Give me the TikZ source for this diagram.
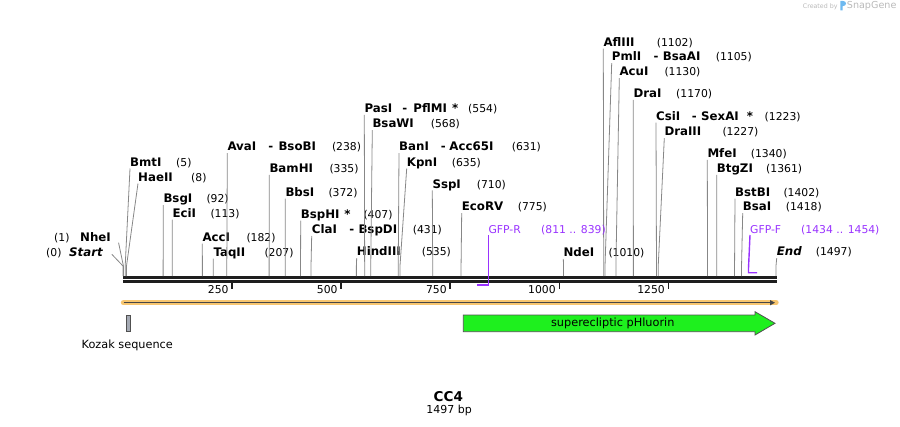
\documentclass[tikz,border=0pt]{standalone}
\usepackage{fontspec}
\setmainfont{DejaVu Sans}
\usetikzlibrary{arrows.meta}
\definecolor{sitegray}{RGB}{135,135,135}
\definecolor{barblack}{RGB}{30,30,30}
\definecolor{primerpurple}{RGB}{153,51,255}
\definecolor{orangeband}{RGB}{247,198,112}
\definecolor{arrowdark}{RGB}{70,70,70}
\definecolor{featgreen}{RGB}{30,240,30}
\definecolor{featedge}{RGB}{80,80,80}
\definecolor{kozakgray}{RGB}{165,170,180}
\definecolor{credgray}{RGB}{185,185,185}
\definecolor{logoblue}{RGB}{110,185,240}
\newcommand{\enzpos}[1]{{\fontsize{10.8}{13}\selectfont\mdseries #1}}
\newcommand{\en}[2]{\rlap{\hspace{#1pt}\textbf{#2}}}
\newcommand{\enz}[7]{%
  \coordinate (s#1) at ({123+0.4362*#7},276);
  \node[enz] (#1) at (#2,{#3+4.2}) {#4\hspace{#5pt}\enzpos{#6}};
  \draw[site] ([yshift=-2.3pt]#1.base west) -- ([yshift=10pt]s#1) -- (s#1);
}
\tikzset{
  enz/.style={anchor=base west, inner sep=0pt, text=black, font=\fontsize{11.8}{14}\selectfont},
  site/.style={draw=sitegray, line width=0.8pt},
  primer/.style={draw=primerpurple, line width=1.4pt},
  primerlabel/.style={anchor=base west, inner sep=0pt, text=primerpurple, font=\fontsize{10.8}{13}\selectfont},
  barline/.style={draw=barblack, line width=2.7pt},
  tickmark/.style={draw=barblack, line width=1.4pt},
  ticklabel/.style={anchor=base east, inner sep=0pt, font=\fontsize{10.8}{13}\selectfont},
  featlabel/.style={inner sep=0pt, font=\fontsize{11.3}{13}\selectfont}
}
\begin{document}
\begin{tikzpicture}[x=1pt, y=-1pt]
\useasboundingbox (0,0) rectangle (900,426);

% credit
\node[anchor=west, inner sep=0pt, text=credgray, font=\fontsize{6.3}{8}\selectfont] (credit) at (802.7,6.3) {Created by};
\fill[logoblue] (840.3,10.3) -- (840.3,0.8) -- (842.6,0.8) .. controls (847.2,0.8) and (847.2,6.2) .. (842.6,6.2) -- (842.6,10.3) -- cycle;
\node[anchor=west, inner sep=0pt, text=credgray, font=\fontsize{9.6}{11}\selectfont] (snapgene) at (846.7,6.2) {SnapGene};

% sequence bar
\draw[barline] (123,277.3) -- (777,277.3);
\draw[barline] (123,281.3) -- (777,281.3);
\foreach \t in {250,500,750,1000,1250} {
  \draw[tickmark] ({123+0.4362*\t},282.7) -- ++(0,6.6);
  \node[ticklabel] (tick\t) at ({123+0.4362*\t-3.3},293.1) {\t};
}

% start / NheI
\coordinate (sstart) at (123,276);
\node[enz] (start) at (46,256.2) {\rlap{\enzpos{(0)}}\hspace{23pt}\textbf{\textit{Start}}};
\draw[site] ([xshift=8.5pt,yshift=1.9pt]start.base east) -- ([yshift=10pt]sstart) -- (sstart);
\coordinate (snhe) at ({123+0.4362*1},276);
\node[enz] (nhe) at (54,241.2) {\rlap{\enzpos{(1)}}\hspace{26pt}\textbf{NheI}};
\draw[site] ([xshift=7.5pt,yshift=-1.5pt]nhe.base east) -- ([yshift=10pt]snhe) -- (snhe);

% enzymes
\enz{bmt}{130}{162}{\en{0}{BmtI}}{46}{(5)}{5}
\enz{hae}{138}{177}{\en{0}{HaeII}}{53}{(8)}{8}
\enz{bsg}{163.3}{198.5}{\en{0}{BsgI}}{43}{(92)}{92}
\enz{eci}{172.3}{213}{\en{0}{EciI}}{38}{(113)}{113}
\enz{acc}{202.3}{237}{\en{0}{AccI}}{44}{(182)}{182}
\enz{taq}{213.3}{252}{\en{0}{TaqII}}{51}{(207)}{207}
\enz{ava}{227.3}{146.7}{\en{0}{AvaI}\en{41}{-}\en{51}{BsoBI}}{104.5}{(238)}{238}
\enz{bam}{269.3}{168.3}{\en{0}{BamHI}}{60}{(335)}{335}
\enz{bbs}{285.3}{192.2}{\en{0}{BbsI}}{43}{(372)}{372}
\enz{bsph}{300.7}{214}{\en{0}{BspHI}\en{43.5}{*}}{62.6}{(407)}{407}
\enz{cla}{311.7}{229.5}{\en{0}{ClaI}\en{37.5}{-}\en{46.6}{BspDI}}{101}{(431)}{431}
\enz{hind}{356.7}{251.7}{\en{0}{HindIII}}{65}{(535)}{535}
\enz{pas}{364.3}{108.3}{\en{0}{PasI}\en{38}{-}\en{49}{PflMI}\en{87.7}{*}}{103.7}{(554)}{554}
\enz{bsaw}{372.3}{123.7}{\en{0}{BsaWI}}{58.4}{(568)}{568}
\enz{ban}{399}{146.7}{\en{0}{BanI}\en{41.7}{-}\en{50.3}{Acc65I}}{112.7}{(631)}{631}
\enz{kpn}{406.7}{162}{\en{0}{KpnI}}{45}{(635)}{635}
\enz{ssp}{432.3}{183.8}{\en{0}{SspI}}{44.4}{(710)}{710}
\enz{ecorv}{461.7}{206.7}{\en{0}{EcoRV}}{56}{(775)}{775}
\enz{nde}{563.3}{252.5}{\en{0}{NdeI}}{45}{(1010)}{1010}
\enz{afl}{603.3}{42}{\en{0}{AflIII}}{53.4}{(1102)}{1102}
\enz{pml}{611.7}{56.7}{\en{0}{PmlI}\en{41.6}{-}\en{51}{BsaAI}}{104}{(1105)}{1105}
\enz{acu}{619.3}{71.7}{\en{0}{AcuI}}{45}{(1130)}{1130}
\enz{dra}{633.3}{93.3}{\en{0}{DraI}}{42.7}{(1170)}{1170}
\enz{csi}{656}{116}{\en{0}{CsiI}\en{35.7}{-}\en{45}{SexAI}\en{90.7}{*}}{108.5}{(1223)}{1223}
\enz{draiii}{664.3}{131.7}{\en{0}{DraIII}}{58}{(1227)}{1227}
\enz{mfe}{707.3}{153.3}{\en{0}{MfeI}}{43.4}{(1340)}{1340}
\enz{btg}{716.7}{168.3}{\en{0}{BtgZI}}{49.3}{(1361)}{1361}
\enz{bstb}{735}{192}{\en{0}{BstBI}}{48.3}{(1402)}{1402}
\enz{bsai}{742.7}{206.7}{\en{0}{BsaI}}{43}{(1418)}{1418}
\enz{endl}{776.7}{251.7}{\en{0}{\textit{End}}}{39}{(1497)}{1497}

% primers
\node[primerlabel] (gfpr) at (488.3,233.3) {\rlap{GFP-R}\hspace{52.7pt}(811 .. 839)};
\coordinate (gfprA) at ({123+0.4362*839},285);
\coordinate (gfprB) at ({123+0.4362*811},285);
\draw[primer] ([yshift=-1.7pt]gfpr.base west) -- (gfpr.base west |- gfprA) -- (gfprB);
\node[primerlabel] (gfpf) at (750,233.3) {\rlap{GFP-F}\hspace{51pt}(1434 .. 1454)};
\coordinate (gfpfA) at ({123+0.4362*1434},272.7);
\coordinate (gfpfB) at ({123+0.4362*1454},272.7);
\draw[primer] ([yshift=-1.7pt]gfpf.base west) -- ([yshift=4.7pt]gfpfA) -- (gfpfA) -- (gfpfB);

% orange ORF arrow
\draw[draw=orangeband, line width=5.4pt, line cap=round] (123.5,302.7) -- (776,302.7);
\draw[draw=arrowdark, line width=1.3pt, -{Triangle[length=5pt,width=5pt]}] (123.5,302.7) -- (775,302.7);

% Kozak
\draw[fill=kozakgray, draw=featedge, line width=0.6pt] (126.7,315.7) rectangle (130.7,331.7);
\node[featlabel] (kozak) at (127.3,345) {Kozak sequence};

% pHluorin feature
\draw[draw=featedge, fill=featgreen, line width=0.8pt] (463.3,315) -- (755,315) -- (755,311.7) -- (775,323.3) -- (755,335) -- (755,331.7) -- (463.3,331.7) -- cycle;
\node[featlabel] (phl) at (612.8,323.3) {superecliptic pHluorin};

% title
\node[inner sep=0pt, font=\fontsize{13.5}{15}\selectfont\bfseries] (title) at (448.3,396.7) {CC4};
\node[inner sep=0pt, font=\fontsize{11}{13}\selectfont] (len) at (449.2,410) {1497 bp};
\end{tikzpicture}
\end{document}
